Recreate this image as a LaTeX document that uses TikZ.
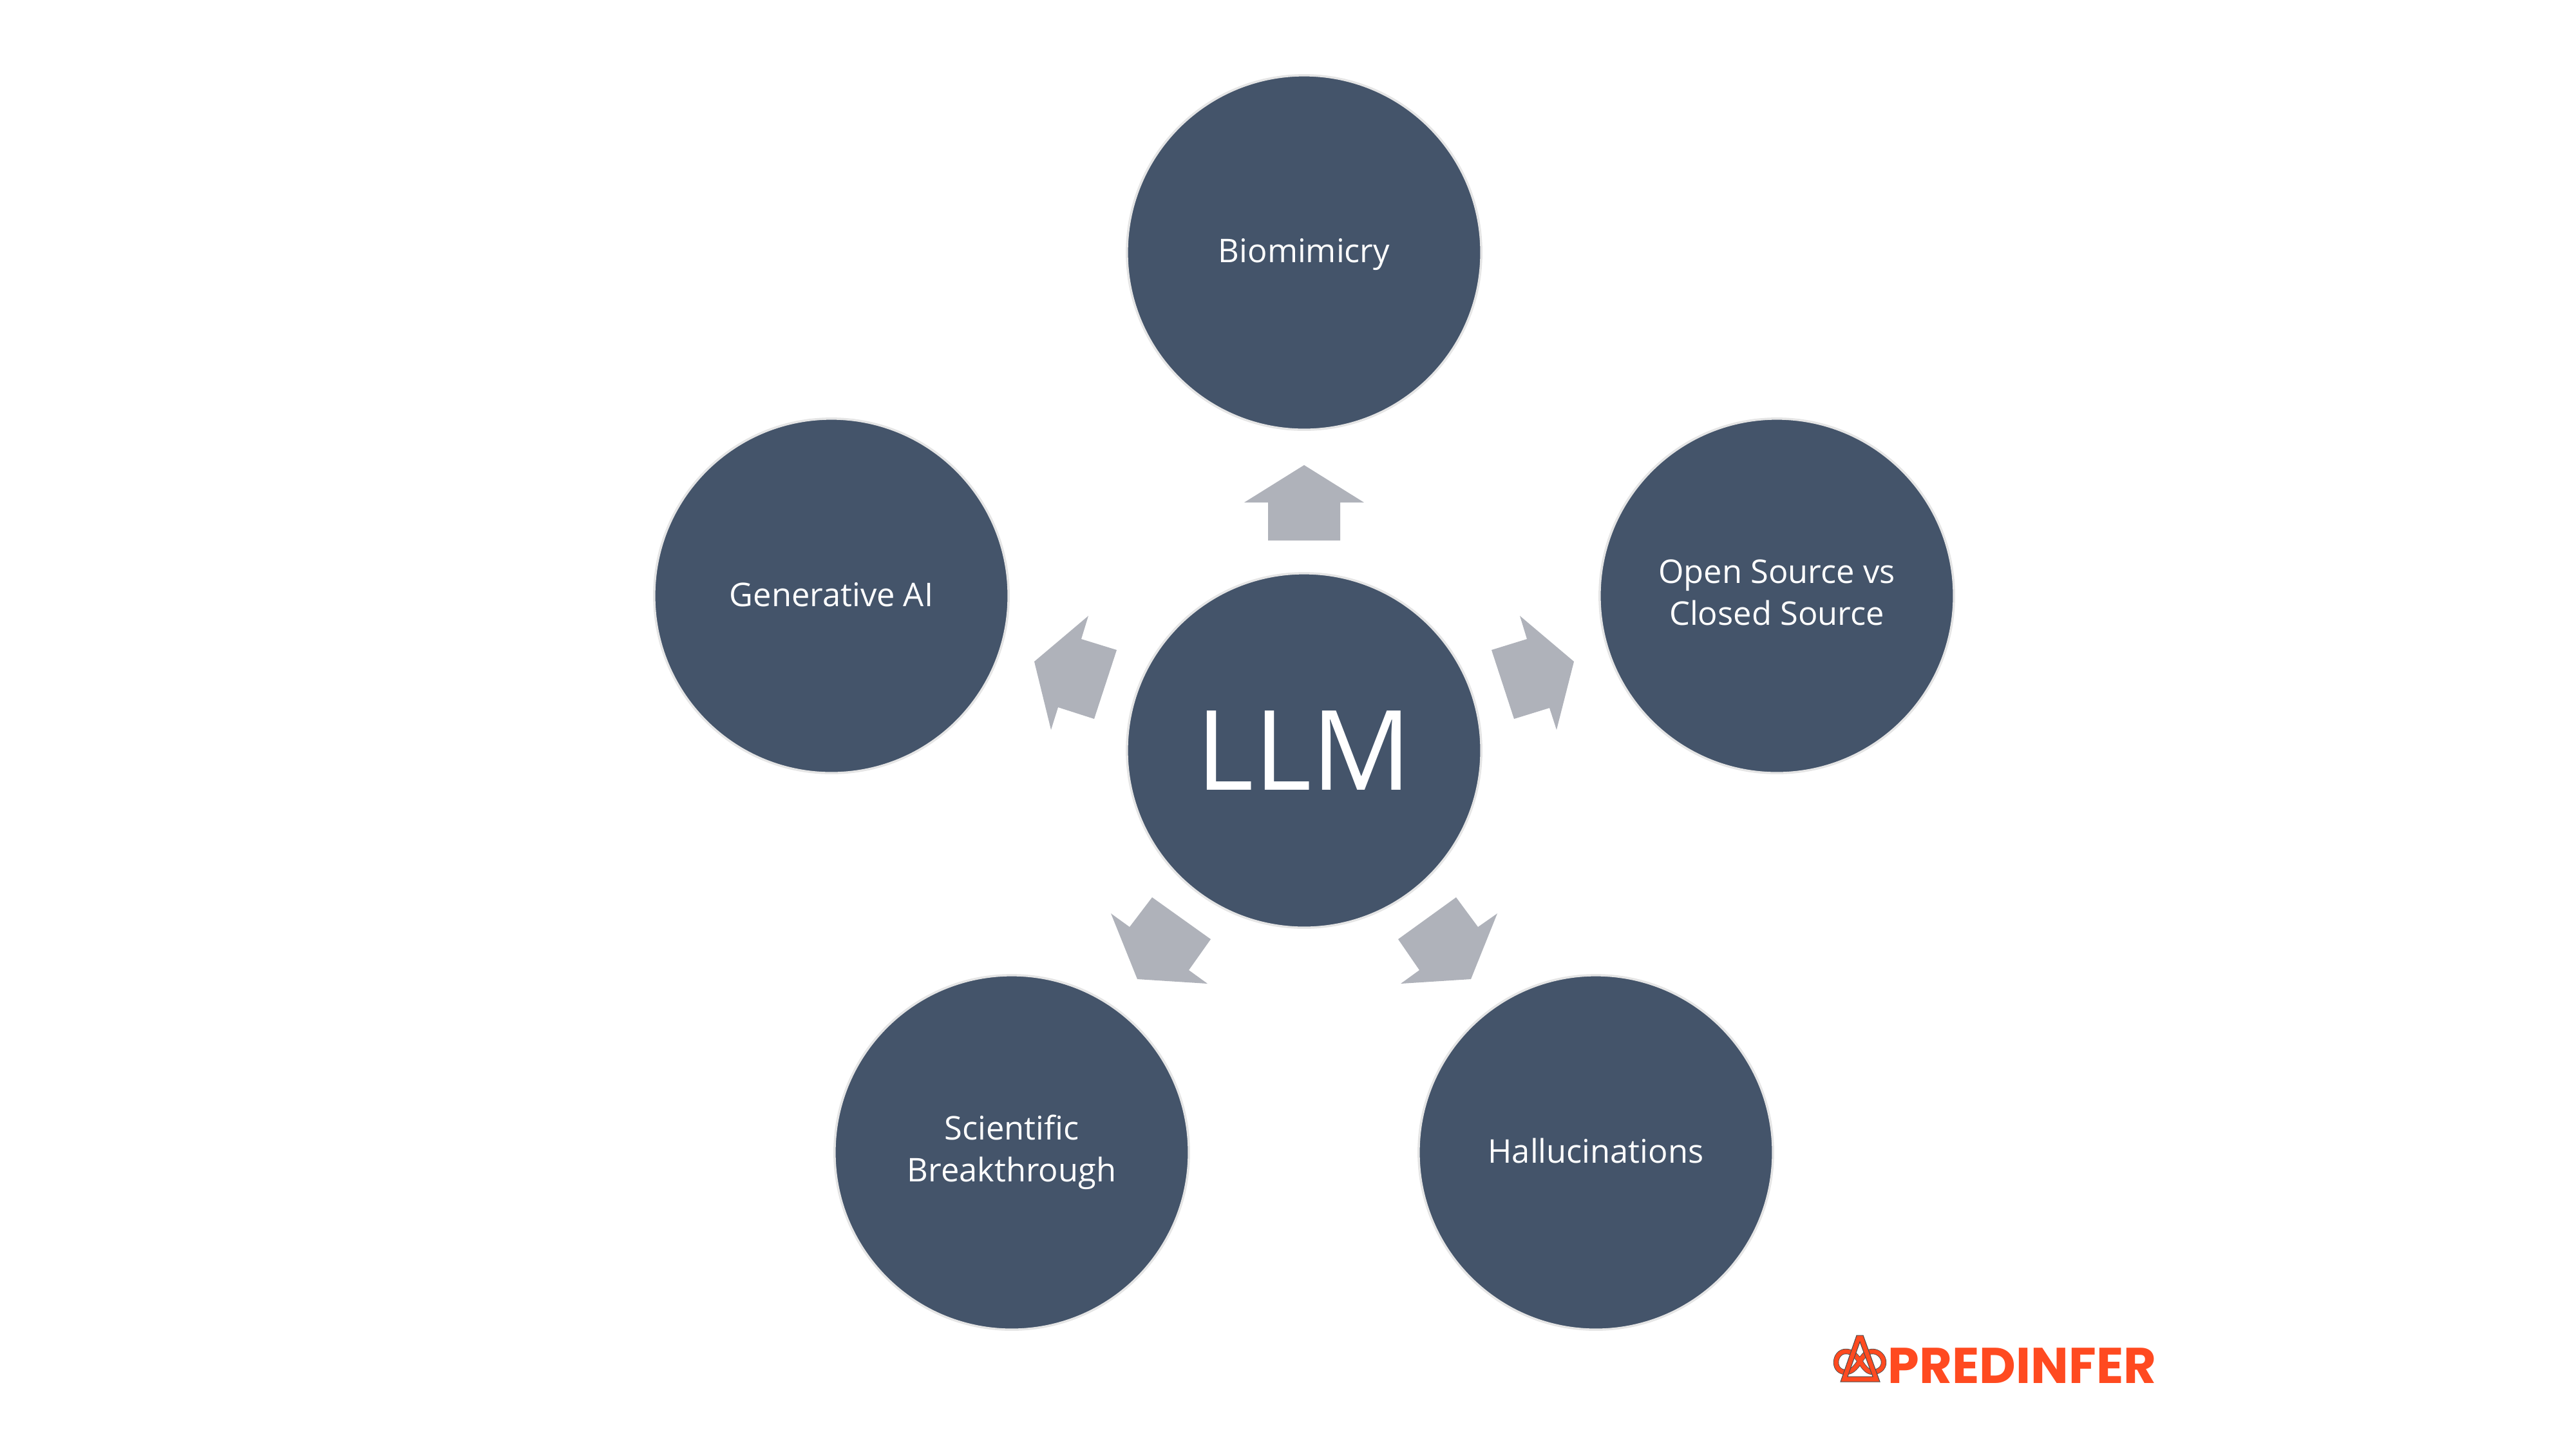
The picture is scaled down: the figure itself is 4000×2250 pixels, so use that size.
\documentclass[tikz,border=0pt]{standalone}
\usepackage{fontspec}
\setmainfont{Open Sans}
\newfontfamily\logofont{Poppins}
\usetikzlibrary{positioning}
\usetikzlibrary{calc}
\definecolor{topicblue}{HTML}{44546A}
\definecolor{arrowgrey}{HTML}{AFB2BA}
\definecolor{logored}{HTML}{FF4A20}
\newcommand{\topicstrut}{\rule[-3pt]{0pt}{15.3pt}}
\tikzset{
  topic/.style={circle,fill=topicblue,draw=gray!20,line width=1pt,minimum size=5.5cm,align=center,text=white,font=\fontsize{14.4}{18.5}\selectfont,execute at begin node=\topicstrut,execute at end node=\topicstrut},
  blockarrow/.style={fill=arrowgrey,draw=none},
  logoline/.style={line width=#1,line join=round}
}
\newcommand{\logoknot}{(2888,2113) .. controls (2880,2102) and (2875,2098) .. (2866,2098) .. controls (2857,2098) and (2851,2106) .. (2851,2115) .. controls (2851,2124) and (2857,2130) .. (2866,2130) .. controls (2875,2130) and (2881,2124) .. (2888,2113) .. controls (2895,2124) and (2900,2130) .. (2908,2130) .. controls (2917,2130) and (2925,2124) .. (2925,2115) .. controls (2925,2106) and (2917,2098) .. (2908,2098) .. controls (2900,2098) and (2895,2102) .. (2888,2113) -- cycle}
\begin{document}
\begin{tikzpicture}[x=0.01cm,y=-0.01cm]
\useasboundingbox (0,0) rectangle (4000,2250);
\node[topic,font=\fontsize{49}{60}\selectfont,execute at begin node={\rule{0pt}{38.1pt}},execute at end node={}] (llm) at (2025,1165) {LLM};
\node[topic] (biomimicry) at (2025,392) {Biomimicry};
\node[topic] (opensource) at (2759,925) {Open Source vs\\Closed Source};
\node[topic] (hallucinations) at (2478,1789) {Hallucinations};
\node[topic] (scientific) at (1571,1789) {Scientific\\Breakthrough};
\node[topic] (generative) at (1291,925) {Generative AI};
\filldraw[blockarrow] (2025,722) -- (2118,780) -- (2081,780) -- (2081,839) -- (1969,839) -- (1969,780) -- (1932,780) -- cycle;
\filldraw[blockarrow] (2444,1027) -- (2417,1133) -- (2406,1099) -- (2351,1116) -- (2316,1009) -- (2371,992) -- (2360,956) -- cycle;
\filldraw[blockarrow] (2284,1520) -- (2175,1527) -- (2204,1506) -- (2171,1458) -- (2261,1393) -- (2295,1439) -- (2325,1418) -- cycle;
\filldraw[blockarrow] (1766,1520) -- (1875,1527) -- (1846,1506) -- (1880,1458) -- (1789,1393) -- (1754,1439) -- (1725,1418) -- cycle;
\filldraw[blockarrow] (1606,1027) -- (1632,1133) -- (1643,1098) -- (1699,1116) -- (1734,1009) -- (1679,992) -- (1690,956) -- cycle;
% logo
\draw[logoline=2.4pt,black!70] \logoknot;
\draw[logoline=1.9pt,logored] \logoknot;
\filldraw[logored,draw=black!70,line width=0.3pt,even odd rule] (2883,2073) -- (2893,2073) -- (2919,2145) -- (2858,2145) -- cycle (2888,2083) -- (2869,2137) -- (2908,2137) -- cycle;
\node[text=logored,font=\logofont\bfseries\fontsize{22.2}{24}\selectfont,inner sep=0pt] (predinfer) at (3140,2120) {PREDINFER};
\end{tikzpicture}
\end{document}
